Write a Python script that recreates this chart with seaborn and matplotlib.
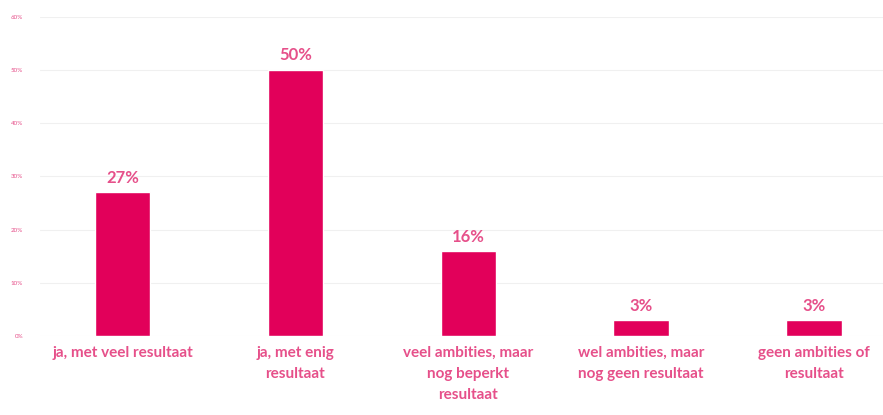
import matplotlib
matplotlib.use("Agg")
import matplotlib.pyplot as plt
import seaborn as sns
import pandas as pd

categories = ["ja, met veel resultaat", "ja, met enig\nresultaat",
              "veel ambities, maar\nnog beperkt\nresultaat",
              "wel ambities, maar\nnog geen resultaat", "geen ambities of\nresultaat"]
values = [27, 50, 16, 3, 3]
yticks = [0, 10, 20, 30, 40, 50, 60]

bar_color = "#E2005A"
text_color = "#E6508A"

sns.set_style("white")
plt.rcParams["font.family"] = ["Lato", "DejaVu Sans"]

df = pd.DataFrame({"cat": categories, "val": values})

fig = plt.figure(figsize=(8.83, 4.15), dpi=100)
ax = fig.add_axes([0.045, 0.19, 0.955, 0.77])
ax.set_axisbelow(True)
for t in yticks:
    ax.axhline(t, color="#f0f0f0", lw=0.8, zorder=0)

sns.barplot(data=df, x="cat", y="val", color=bar_color, width=0.32,
            saturation=1, ax=ax, zorder=2)

for i, v in enumerate(values):
    ax.text(i, v + 1.2, f"{v}%", ha="center", va="bottom",
            color=text_color, fontsize=12, fontweight="bold")

ax.set_ylim(0, 60)
ax.set_xlim(-0.48, 4.4)
ax.set_yticks(yticks)
ax.set_yticklabels([f"{t}%" for t in yticks], color=text_color, fontsize=4.5)
ax.tick_params(axis="y", length=0, pad=12)
ax.tick_params(axis="x", length=0, pad=7)
ax.set_xticks(range(len(categories)))
ax.set_xticklabels(categories, color=text_color, fontsize=11,
                   fontweight="bold", linespacing=1.65, va="top")
ax.set_xlabel("")
ax.set_ylabel("")
sns.despine(ax=ax, left=True, bottom=True)

fig.savefig("out.png", dpi=100)
